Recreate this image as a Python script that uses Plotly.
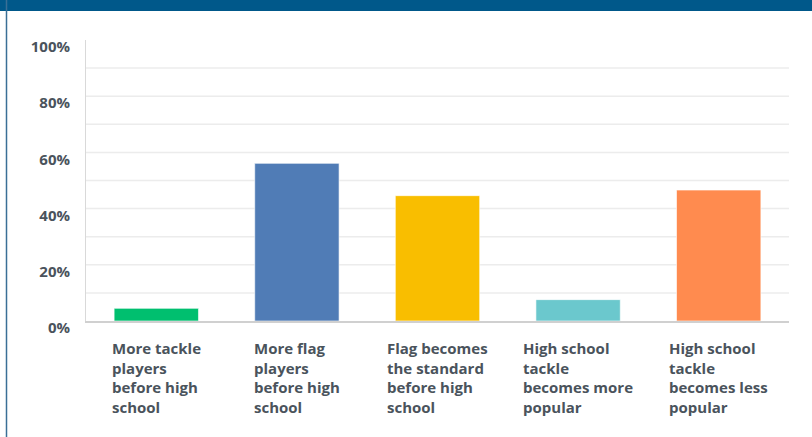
import plotly.graph_objects as go

categories = [
    "More tackle<br>players<br>before high<br>school",
    "More flag<br>players<br>before high<br>school",
    "Flag becomes<br>the standard<br>before high<br>school",
    "High school<br>tackle<br>becomes more<br>popular",
    "High school<br>tackle<br>becomes less<br>popular",
]
values = [0.045, 0.561, 0.446, 0.076, 0.466]
bar_colors = ["#00BF6F", "#507CB6", "#F9BE00", "#6BC8CD", "#FF8B4F"]
y_tick_vals = [0, 0.2, 0.4, 0.6, 0.8, 1.0]
y_tick_text = ["0%", "20%", "40%", "60%", "80%", "100%"]
grid_vals = [0.1, 0.2, 0.3, 0.4, 0.5, 0.6, 0.7, 0.8, 0.9]

W, H = 812, 437
ML, MR, MT, MB = 86, 23, 40, 116
PW, PH = W - ML - MR, H - MT - MB

xs = list(range(len(categories)))

fig = go.Figure()
fig.add_trace(go.Bar(
    x=xs, y=values,
    marker=dict(color=bar_colors, line=dict(color="rgba(255,255,255,0.6)", width=1)),
    width=0.6,
    hoverinfo="skip",
))

for g in grid_vals:
    fig.add_shape(type="line", xref="paper", yref="y", x0=0, x1=1, y0=g, y1=g,
                  line=dict(color="#ececec", width=1.5), layer="below")

for i, c in enumerate(categories):
    fig.add_annotation(x=i, y=0, xref="x", yref="paper", text=c, showarrow=False,
                       xanchor="center", yanchor="top", align="left", yshift=-15,
                       font=dict(family="Open Sans", size=15, color="#4a535c", weight=700))

# top band and left border
fig.add_shape(type="rect", xref="paper", yref="paper",
              x0=-ML / PW - 0.01, x1=(W - ML) / PW + 0.01,
              y0=(H - 11 - MB) / PH, y1=(H - MB) / PH + 0.01,
              fillcolor="#00588A", line=dict(width=0), layer="above")
fig.add_shape(type="line", xref="paper", yref="paper",
              x0=(6.5 - ML) / PW, x1=(6.5 - ML) / PW,
              y0=-MB / PH - 0.01, y1=(H - MB) / PH,
              line=dict(color="#3a6f96", width=1.5), layer="above")

fig.update_layout(
    width=W, height=H,
    margin=dict(l=ML, r=MR, t=MT, b=MB),
    paper_bgcolor="white", plot_bgcolor="white",
    showlegend=False,
    bargap=0.4,
    xaxis=dict(range=[-0.5, 4.5], showticklabels=False, showgrid=False, zeroline=False,
               showline=True, linecolor="#d0d0d0", linewidth=2, fixedrange=True),
    yaxis=dict(range=[0, 1.0], tickvals=y_tick_vals, ticktext=y_tick_text,
               showgrid=False, zeroline=False, showline=True, linecolor="#d9d9d9", linewidth=1,
               ticklabelstandoff=12, ticklabelshift=7,
               tickfont=dict(family="Open Sans", size=15, color="#4a535c", weight=700),
               fixedrange=True),
)

fig.write_html("out.html", config={"displayModeBar": False},
               post_script="document.body.style.margin='0';document.body.style.overflow='hidden';")
